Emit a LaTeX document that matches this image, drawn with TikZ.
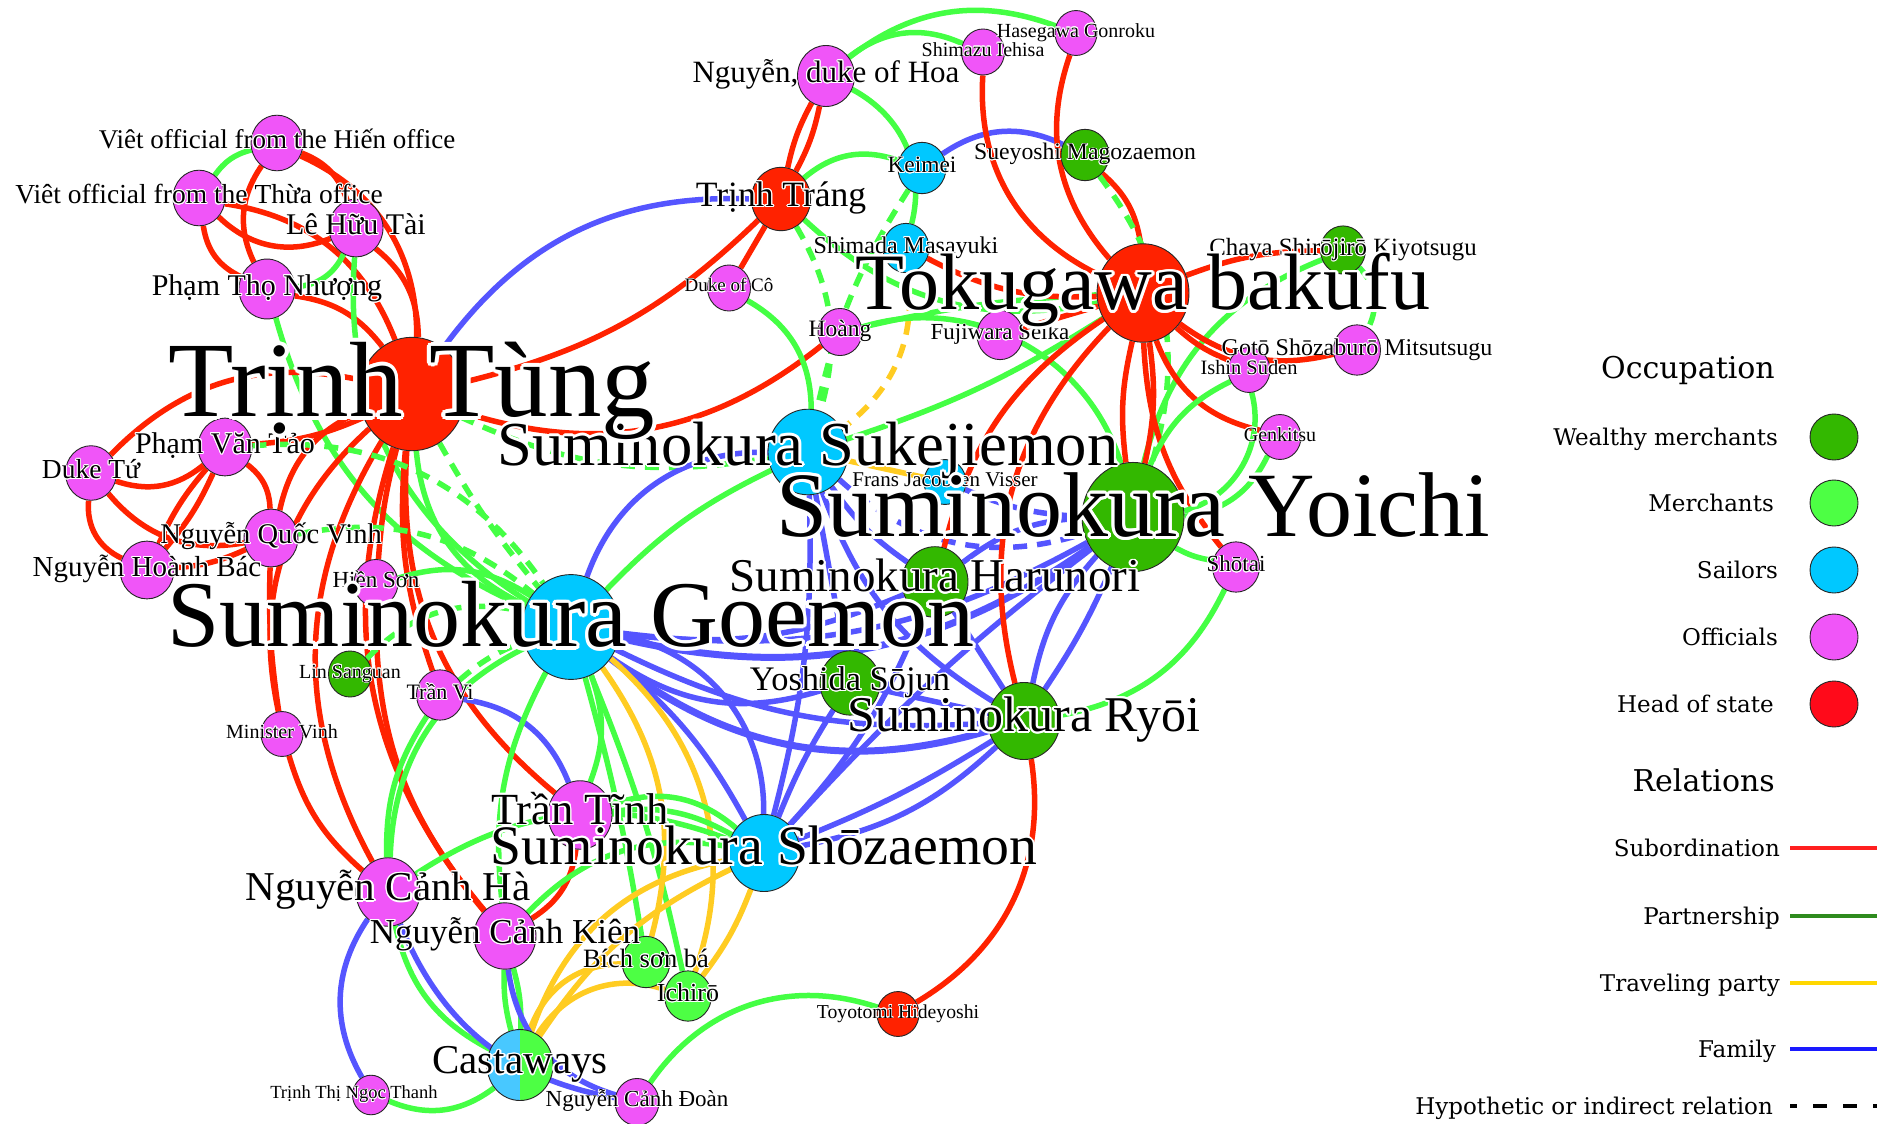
\documentclass[tikz,border=0pt]{standalone}
\usepackage{fontspec}
\setmainfont{Liberation Serif}
\newfontfamily\legfont{DejaVu Serif}
\usepackage[copies]{contour}
\contourlength{0.035em}
\usetikzlibrary{shapes.geometric}
\pgfdeclarelayer{bglayer}
\pgfdeclarelayer{edgelayer}
\pgfdeclarelayer{labellayer}
\pgfsetlayers{bglayer,edgelayer,main,labellayer}

\definecolor{cRed}{HTML}{FF2200}
\definecolor{cGreen}{HTML}{44FF44}
\definecolor{cBlue}{HTML}{5555FF}
\definecolor{cYel}{HTML}{FFCC22}
\definecolor{nOff}{HTML}{F055F8}
\definecolor{nHead}{HTML}{FF2200}
\definecolor{nWealth}{HTML}{33B800}
\definecolor{nMerch}{HTML}{4DFF44}
\definecolor{nSail}{HTML}{00C8FF}
\definecolor{nCastL}{HTML}{48C8FF}
\definecolor{lHead}{HTML}{FF0A1A}
\definecolor{lSub}{HTML}{FF2020}
\definecolor{lPart}{HTML}{2E8B1E}
\definecolor{lTrav}{HTML}{FFD700}
\definecolor{lFam}{HTML}{1A1AFF}

\tikzset{
  pers/.style={ellipse, draw=black!85, line width=0.9pt, inner sep=0pt},
  lbl/.style={anchor=base, inner sep=0pt},
  er/.style={draw=cRed, line width=5.5pt},
  eg/.style={draw=cGreen, line width=5.5pt},
  eb/.style={draw=cBlue, line width=5.5pt},
  ey/.style={draw=cYel, line width=5.5pt},
  dsh/.style={dash pattern=on 14pt off 10pt},
  legc/.style={ellipse, draw=black!85, line width=0.9pt, inner sep=0pt, minimum width=48, minimum height=46},
  legt/.style={anchor=base east, inner sep=0pt, font=\legfont\fontsize{23}{23}\selectfont},
  legh/.style={anchor=base east, inner sep=0pt, font=\legfont\fontsize{30}{30}\selectfont}
}

% [label dx] name x y r colour fontsize text
\newcommand\pn[8][0]{%
  \node[pers, fill=#6, minimum width={2*#5}, minimum height={2.14*#5}] (#2) at (#3,#4) {};%
  \begin{pgfonlayer}{labellayer}%
  \node[lbl] (#2-l) at ({#3+#1},{#4+0.21*#7}) {\fontsize{#7}{#7}\selectfont\contour{white}{#8}};%
  \end{pgfonlayer}}
\newcommand\ed[4]{\draw[#1] (#2) to[bend left={#4}] (#3);}

\begin{document}
\begin{tikzpicture}[x=1pt,y=-1pt]
\begin{pgfonlayer}{bglayer}
\fill[white] (0,0) rectangle (1887,1124);
\end{pgfonlayer}
\useasboundingbox (0,0) rectangle (1887,1124);

% ---------- officials
\pn{VH}{277}{143}{26}{nOff}{27}{Viêt official from the Hiến office}
\pn{VT}{199}{198}{26}{nOff}{27.5}{Viêt official from the Thừa office}
\pn{LHT}{356}{228}{27}{nOff}{30}{Lê Hữu Tài}
\pn{PTN}{267}{289}{28}{nOff}{30}{Phạm Thọ Nhượng}
\pn{PVT}{225}{447}{27}{nOff}{30}{Phạm Văn Tảo}
\pn{DT}{91}{473}{25.5}{nOff}{27.5}{Duke Tứ}
\pn{NQV}{271}{538}{27}{nOff}{28.5}{Nguyễn Quốc Vinh}
\pn{NHB}{147}{570}{27}{nOff}{29}{Nguyễn Hoành Bác}
\pn{HS}{376}{583}{22}{nOff}{23}{Hiền Sơn}
\pn{TV}{440}{695}{23.5}{nOff}{22}{Trần Vi}
\pn{MV}{282}{734}{21}{nOff}{20}{Minister Vinh}
\pn{TTi}{580}{815}{32}{nOff}{44.5}{Trần Tĩnh}
\pn{NCH}{388}{892}{32}{nOff}{41}{Nguyễn Cảnh Hà}
\pn{NCK}{505}{936}{31}{nOff}{35}{Nguyễn Cảnh Kiên}
\pn[-17]{TTNT}{371}{1095}{18.5}{nOff}{18.5}{Trịnh Thị Ngọc Thanh}
\pn{NCD}{637}{1102}{22}{nOff}{23}{Nguyễn Cảnh Đoàn}
\pn{NDH}{826}{76}{28.5}{nOff}{31}{Nguyễn, duke of Hoa}
\pn{SI}{983}{52}{21.5}{nOff}{20}{Shimazu Iehisa}
\pn{HG}{1076}{33}{21}{nOff}{20}{Hasegawa Gonroku}
\pn{DC}{729}{288}{21.5}{nOff}{19}{Duke of Cô}
\pn{HO}{840}{332}{22}{nOff}{23.5}{Hoàng}
\pn{FS}{1000}{335}{23}{nOff}{23}{Fujiwara Seika}
\pn{GSM}{1357}{350}{23.5}{nOff}{24}{Gotō Shōzaburō Mitsutsugu}
\pn{IS}{1249}{370}{21}{nOff}{20.4}{Ishin Sūden}
\pn{GK}{1280}{437}{21}{nOff}{20}{Genkitsu}
\pn{ST}{1236}{567}{23.5}{nOff}{23}{Shōtai}
% ---------- sailors
\pn{KM}{922}{168}{24}{nSail}{23.4}{Keimei}
\pn{SM}{906}{248}{23}{nSail}{24}{Shimada Masayuki}
\pn{FJV}{945}{482}{21}{nSail}{21}{Frans Jacobsen Visser}
\pn{SSu}{808}{452}{40}{nSail}{62.6}{Suminokura Sukejiemon}
\pn{SGo}{571}{627}{49}{nSail}{94}{Suminokura Goemon}
\pn{SSh}{764}{853}{36}{nSail}{55.7}{Suminokura Shōzaemon}
% ---------- wealthy merchants
\pn{SYo}{1133}{517}{51}{nWealth}{92}{Suminokura Yoichi}
\pn{SHa}{935}{582}{33}{nWealth}{47}{Suminokura Harunori}
\pn{SRy}{1024}{721}{36}{nWealth}{50}{Suminokura Ryōi}
\pn{YS}{850}{683}{30}{nWealth}{34.4}{Yoshida Sōjun}
\pn{SMa}{1085}{155}{24}{nWealth}{23.7}{Sueyoshi Magozaemon}
\pn{CSK}{1343}{250}{22.5}{nWealth}{24.8}{Chaya Shirōjirō Kiyotsugu}
\pn{LS}{350}{674}{21.5}{nWealth}{20}{Lin Sanguan}
% ---------- merchants
\pn{BSB}{646}{962}{24}{nMerch}{26.5}{Bích sơn bá}
\pn{IC}{688}{996}{23.5}{nMerch}{26}{Ichirō}
\node[pers, minimum width=66, minimum height=71,
  path picture={\fill[nCastL] (path picture bounding box.north west) rectangle (path picture bounding box.south);
                \fill[nMerch] (path picture bounding box.north) rectangle (path picture bounding box.south east);}]
  (CW) at (520,1065) {};
\begin{pgfonlayer}{labellayer}
\node[lbl] (CW-l) at (520,{1065+0.21*41}) {\fontsize{41}{41}\selectfont\contour{white}{Castaways}};
\end{pgfonlayer}
% ---------- heads of state
\pn{TTu}{412}{394}{53}{nHead}{107}{Trịnh Tùng}
\pn{TTr}{781}{199}{29.6}{nHead}{35.6}{Trịnh Tráng}
\pn{TB}{1143}{293}{46}{nHead}{80}{Tokugawa bakufu}
\pn{TH}{898}{1014}{21}{nHead}{19.7}{Toyotomi Hideyoshi}

% ================= edges
\begin{pgfonlayer}{edgelayer}
% officials cluster
\ed{eg}{VH}{VT}{-20}
\ed{er}{VH}{LHT}{25}
\ed{er}{VH}{PTN}{-30}
\ed{er}{VH}{TTu}{33}
\ed{er}{VT}{PTN}{-28}
\ed{er}{VT}{LHT}{-33}
\ed{er}{VT}{TTu}{30}
\ed{er}{PTN}{TTu}{22}
\ed{eg}{LHT}{PTN}{30}
\ed{er}{LHT}{TTu}{25}
\ed{eg}{LHT}{SGo}{-31}
\ed{eg}{PTN}{SGo}{-25}
% Trinh Tung
\ed{eb}{TTu}{TTr}{28}
\ed{er}{TTu}{TTr}{-15}
\ed{er}{TTu}{HO}{-28}
\ed{er}{DT}{TTu}{29}
\ed{er}{DT}{PVT}{-29}
\ed{er}{DT}{NHB}{-35}
\ed{er}{DT}{NQV}{-30}
\ed{er}{PVT}{NHB}{-8}
\ed{er}{PVT}{NHB}{8}
\ed{er}{PVT}{NQV}{25}
\ed{er}{PVT}{TTu}{-10}
\ed{er}{NHB}{NQV}{-10}
\ed{er}{NQV}{TTu}{27}
\ed{er}{TTu}{MV}{-30}
\ed{er}{NQV}{MV}{-5}
\ed{er}{MV}{NCH}{-16}
\ed{er}{TTu}{NCH}{-30}
\ed{er}{TTu}{NCK}{-29}
\ed{er}{HS}{NCK}{-20}
\ed{er}{TTu}{HS}{-5}
\ed{er}{TTu}{TV}{-12}
\ed{er}{TTu}{TTi}{-27}
\ed{er}{TTi}{NCK}{25}
\ed{eb}{TV}{TTi}{30}
% green towards Goemon
\ed{eg,dsh}{TTu}{SSu}{-17}
\ed{eg,dsh}{TTu}{SGo}{-5}
\ed{eg}{TTu}{SGo}{-30}
\ed{eg}{HS}{SGo}{25}
\ed{eg,dsh}{NQV}{SGo}{25}
\ed{eg,dsh}{PVT}{SGo}{30}
\ed{eg,dsh}{LS}{SGo}{30}
\ed{eg,dsh}{TV}{SGo}{10}
\ed{eg}{SGo}{NCH}{-31}
\ed{eg}{SGo}{NCK}{-17}
\ed{eg}{SGo}{TTi}{20}
\ed{eg}{SGo}{BSB}{3}
\ed{eg}{SGo}{IC}{5}
\ed{eg}{SGo}{SSu}{10}
\ed{eg}{TV}{NCH}{-17}
% Goemon family
\ed{eb}{SGo}{SSu}{36}
\ed{eb,line width=7pt}{SGo}{SYo}{-24}
\ed{eb}{SGo}{SYo}{-18}
\ed{eb}{SGo}{SHa}{-15}
\ed{eb}{SGo}{YS}{-26}
\ed{eb,line width=7pt}{SGo}{SRy}{-27}
\ed{eb}{SGo}{SRy}{-15}
\ed{eb}{SGo}{SSh}{11}
\ed{eb}{SGo}{SSh}{40}
% travelling party
\ed{ey}{SGo}{BSB}{25}
\ed{ey}{SGo}{IC}{34}
\ed{ey}{SSh}{CW}{-30}
\ed{ey}{SSh}{CW}{-15}
\ed{ey}{SSh}{IC}{8}
\ed{ey}{CW}{BSB}{35}
\ed{ey}{CW}{IC}{38}
\ed{ey,dsh}{SM}{SSu}{30}
\ed{ey}{SSu}{FJV}{0}
% Suminokura family
\ed{eb}{SSu}{SSh}{8}
\ed{eb}{SSu}{YS}{0}
\ed{eb}{SSu}{SRy}{-19}
\ed{eb}{SSu}{SHa}{-10}
\ed{eb,dsh}{SSu}{SYo}{-30}
\ed{eb,dsh}{FJV}{SYo}{-10}
\ed{eb}{SHa}{SYo}{17}
\ed{eb}{SHa}{SRy}{0}
\ed{eb}{SRy}{SYo}{15}
\ed{eb}{SRy}{SYo}{-5}
\ed{eb}{YS}{SRy}{0}
\ed{eb}{YS}{SSh}{-5}
\ed{eb}{SSh}{SRy}{-16}
\ed{eb}{SSh}{SRy}{-5}
\ed{eb}{SSh}{SYo}{5}
\ed{eb}{SSh}{SHa}{-10}
% Tran Tinh, Canh Ha, Canh Kien
\ed{eg}{TTi}{SSh}{30}
\ed{eg}{TTi}{SSh}{18}
\ed{eg}{NCH}{SSh}{27}
\ed{eg}{NCK}{SSh}{28}
% castaways
\ed{eb}{NCH}{TTNT}{-32}
\ed{eg}{TTNT}{CW}{-30}
\ed{eg}{NCH}{CW}{-25}
\ed{eb}{NCH}{NCD}{-29}
\ed{eg}{NCK}{CW}{8}
\ed{eg}{NCK}{CW}{-8}
\ed{eb}{NCK}{NCD}{-33}
\ed{eg}{NCD}{TH}{37}
\ed{er}{SRy}{TH}{34}
% top
\ed{eg}{NDH}{SI}{31}
\ed{eg}{NDH}{HG}{29}
\ed{er}{NDH}{TTr}{8}
\ed{er}{NDH}{TTr}{-8}
\ed{eg}{NDH}{SM}{38}
\ed{eg}{TTr}{KM}{30}
\ed{eb}{KM}{SMa}{30}
\ed{eg,dsh}{KM}{SSu}{-10}
\ed{eg}{TTr}{TB}{-27}
\ed{eg,dsh}{TTr}{SSu}{23}
\ed{er}{TTr}{DC}{0}
\ed{eg}{DC}{SSu}{30}
\ed{eg}{HO}{TB}{5}
\ed{eg}{HO}{SYo}{45}
\ed{er}{FS}{TB}{0}
\ed{eg}{SSu}{TB}{-7}
\ed{er}{SM}{TB}{-15}
% Tokugawa
\ed{er}{SI}{TB}{-34}
\ed{er}{HG}{TB}{-30}
\ed{er}{SMa}{TB}{20}
\ed{eg,dsh}{SMa}{SYo}{27}
\ed{er}{TB}{CSK}{10}
\ed{eg,dsh}{CSK}{GSM}{35}
\ed{eg}{CSK}{SYo}{-27}
\ed{er}{TB}{GSM}{-25}
\ed{er}{TB}{IS}{-10}
\ed{er}{TB}{GK}{-28}
\ed{er}{TB}{SYo}{10}
\ed{er}{TB}{SYo}{-10}
\ed{er}{TB}{ST}{-18}
\ed{er}{TB}{SHa}{-21}
\ed{er}{TB}{SRy}{-29}
\ed{eg}{IS}{SYo}{45}
\ed{eg}{IS}{SYo}{-20}
\ed{eg}{GK}{SYo}{28}
\ed{eg}{ST}{SYo}{10}
\ed{eg}{ST}{SRy}{27}
\end{pgfonlayer}

% ================= legend
\node[legh] (occ) at (1775,378) {Occupation};
\node[legt] (t1) at (1778,445) {Wealthy merchants};
\node[legt] (t2) at (1774,511) {Merchants};
\node[legt] (t3) at (1778,578) {Sailors};
\node[legt] (t4) at (1778,645) {Officials};
\node[legt] (t5) at (1774,712) {Head of state};
\node[legc, fill=nWealth] (c1) at (1834,437) {};
\node[legc, fill=nMerch] (c2) at (1834,503) {};
\node[legc, fill=nSail] (c3) at (1834,570) {};
\node[legc, fill=nOff] (c4) at (1834,637) {};
\node[legc, fill=lHead] (c5) at (1834,704) {};
\node[legh] (rel) at (1775,791) {Relations};
\node[legt] (r1) at (1780,856) {Subordination};
\node[legt] (r2) at (1780,924) {Partnership};
\node[legt] (r3) at (1780,991) {Traveling party};
\node[legt] (r4) at (1776,1057) {Family};
\node[legt] (r5) at (1773,1114) {Hypothetic or indirect relation};
\draw[lSub, line width=3.5pt] (1790,848) -- (1877,848);
\draw[lPart, line width=3.5pt] (1790,916) -- (1877,916);
\draw[lTrav, line width=3.5pt] (1790,983) -- (1877,983);
\draw[lFam, line width=3.5pt] (1790,1049) -- (1877,1049);
\draw[black, line width=3.5pt, dash pattern=on 14pt off 16pt, dash phase=7pt] (1790,1106) -- (1877,1106);
\end{tikzpicture}
\end{document}
